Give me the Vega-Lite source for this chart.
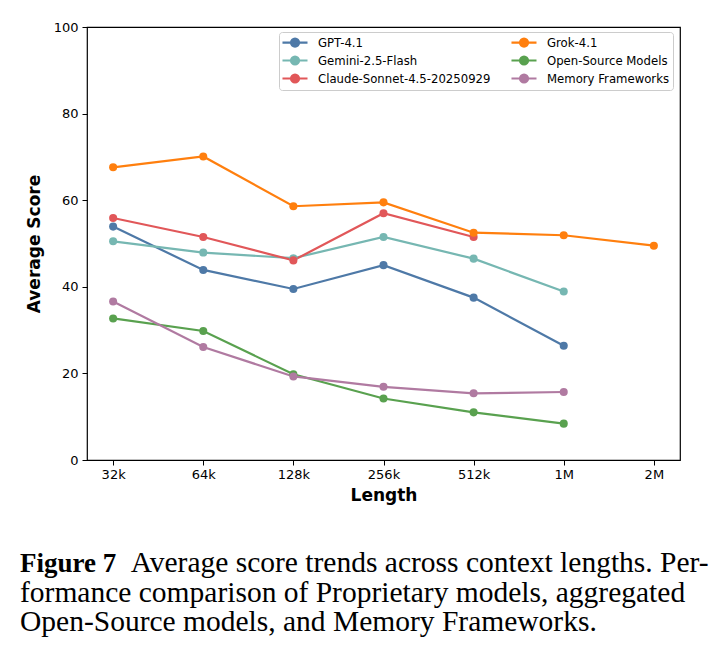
{
  "$schema": "https://vega.github.io/schema/vega-lite/v6.json",
  "width": 593,
  "height": 433,
  "autosize": {"type": "none"},
  "padding": {"left": 87, "top": 27, "right": 33, "bottom": 199},
  "background": "white",
  "config": {
    "view": {"stroke": "black", "strokeWidth": 1.2},
    "font": "DejaVu Sans",
    "axis": {
      "grid": false,
      "domain": false,
      "tickColor": "black",
      "tickSize": 5,
      "labelColor": "black",
      "labelFontSize": 13,
      "labelFont": "DejaVu Sans",
      "titleFont": "DejaVu Sans",
      "titleFontSize": 17,
      "titleFontWeight": "bold",
      "titleColor": "black"
    }
  },
  "title": {
    "text": "Figure 7",
    "subtitle": [
      "\u200b\u00a0\u00a0\u00a0\u00a0\u00a0\u00a0\u00a0\u00a0\u00a0\u00a0\u00a0\u00a0\u00a0\u00a0\u00a0Average score trends across context lengths. Per-",
      "formance comparison of Proprietary models, aggregated",
      "Open-Source models, and Memory Frameworks."
    ],
    "orient": "bottom",
    "anchor": "start",
    "frame": "group",
    "dx": -67,
    "offset": 48,
    "font": "Liberation Serif",
    "fontSize": 27,
    "fontWeight": "bold",
    "color": "black",
    "subtitleFont": "Liberation Serif",
    "subtitleFontSize": 29.5,
    "subtitleColor": "black",
    "subtitleLineHeight": 29.6,
    "subtitlePadding": -29
  },
  "data": {
    "values": [
      {"model": "GPT-4.1", "length": "32k", "score": 53.9},
      {"model": "GPT-4.1", "length": "64k", "score": 43.9},
      {"model": "GPT-4.1", "length": "128k", "score": 39.5},
      {"model": "GPT-4.1", "length": "256k", "score": 45.0},
      {"model": "GPT-4.1", "length": "512k", "score": 37.5},
      {"model": "GPT-4.1", "length": "1M", "score": 26.4},
      {"model": "Gemini-2.5-Flash", "length": "32k", "score": 50.5},
      {"model": "Gemini-2.5-Flash", "length": "64k", "score": 47.9},
      {"model": "Gemini-2.5-Flash", "length": "128k", "score": 46.6},
      {"model": "Gemini-2.5-Flash", "length": "256k", "score": 51.5},
      {"model": "Gemini-2.5-Flash", "length": "512k", "score": 46.5},
      {"model": "Gemini-2.5-Flash", "length": "1M", "score": 38.9},
      {"model": "Claude-Sonnet-4.5-20250929", "length": "32k", "score": 55.9},
      {"model": "Claude-Sonnet-4.5-20250929", "length": "64k", "score": 51.5},
      {"model": "Claude-Sonnet-4.5-20250929", "length": "128k", "score": 46.1},
      {"model": "Claude-Sonnet-4.5-20250929", "length": "256k", "score": 57.0},
      {"model": "Claude-Sonnet-4.5-20250929", "length": "512k", "score": 51.5},
      {"model": "Grok-4.1", "length": "32k", "score": 67.6},
      {"model": "Grok-4.1", "length": "64k", "score": 70.1},
      {"model": "Grok-4.1", "length": "128k", "score": 58.6},
      {"model": "Grok-4.1", "length": "256k", "score": 59.5},
      {"model": "Grok-4.1", "length": "512k", "score": 52.5},
      {"model": "Grok-4.1", "length": "1M", "score": 51.9},
      {"model": "Grok-4.1", "length": "2M", "score": 49.5},
      {"model": "Open-Source Models", "length": "32k", "score": 32.7},
      {"model": "Open-Source Models", "length": "64k", "score": 29.8},
      {"model": "Open-Source Models", "length": "128k", "score": 19.8},
      {"model": "Open-Source Models", "length": "256k", "score": 14.2},
      {"model": "Open-Source Models", "length": "512k", "score": 11.0},
      {"model": "Open-Source Models", "length": "1M", "score": 8.4},
      {"model": "Memory Frameworks", "length": "32k", "score": 36.6},
      {"model": "Memory Frameworks", "length": "64k", "score": 26.1},
      {"model": "Memory Frameworks", "length": "128k", "score": 19.3},
      {"model": "Memory Frameworks", "length": "256k", "score": 16.9},
      {"model": "Memory Frameworks", "length": "512k", "score": 15.4},
      {"model": "Memory Frameworks", "length": "1M", "score": 15.7}
    ]
  },
  "encoding": {
    "x": {
      "field": "length",
      "type": "ordinal",
      "sort": ["32k", "64k", "128k", "256k", "512k", "1M", "2M"],
      "scale": {"type": "point", "padding": 0.29},
      "axis": {"title": "Length", "labelAngle": 0, "labelPadding": 3, "titlePadding": 6}
    },
    "y": {
      "field": "score",
      "type": "quantitative",
      "scale": {"domain": [0, 100], "nice": false},
      "axis": {"title": "Average Score", "values": [0, 20, 40, 60, 80, 100], "labelPadding": 4, "titlePadding": 10}
    },
    "color": {
      "field": "model",
      "type": "nominal",
      "scale": {
        "domain": ["GPT-4.1", "Gemini-2.5-Flash", "Claude-Sonnet-4.5-20250929", "Grok-4.1", "Open-Source Models", "Memory Frameworks"],
        "range": ["#4e79a7", "#76b7b2", "#e15759", "#ff7f0e", "#59a14f", "#b07aa1"]
      },
      "legend": {
        "title": null,
        "orient": "none",
        "legendX": 192,
        "legendY": 5,
        "columns": 2,
        "columnPadding": 16,
        "rowPadding": 1,
        "padding": 3,
        "strokeColor": "#cccccc",
        "fillColor": "white",
        "cornerRadius": 3,
        "labelFontSize": 11.7,
        "labelFont": "DejaVu Sans",
        "labelColor": "black",
        "labelLimit": 300,
        "labelOffset": 21,
        "symbolType": "M-1.17,0L3.0,0M0.25,0A0.67,0.67 0 1,0 1.59,0A0.67,0.67 0 1,0 0.25,0Z",
        "symbolSize": 144,
        "symbolStrokeWidth": 2.2,
        "encode": {
          "symbols": {"update": {"fill": {"field": "value", "scale": "color"}}}
        }
      }
    }
  },
  "layer": [
    {"mark": {"type": "line", "strokeWidth": 2.2}},
    {"mark": {"type": "point", "filled": true, "size": 65, "opacity": 1}}
  ]
}
